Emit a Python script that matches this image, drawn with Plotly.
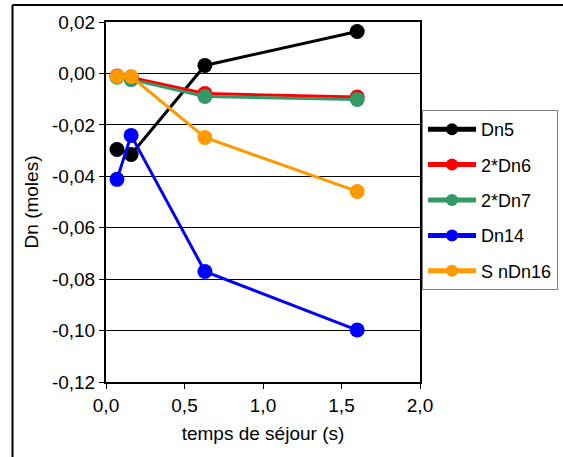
import plotly.graph_objects as go

x_time = [0.07, 0.16, 0.63, 1.60]

series_names = ["Dn5", "2*Dn6", "2*Dn7", "Dn14", "S nDn16"]
dn5 = [-0.0296, -0.0315, 0.0031, 0.0163]
dn6x2 = [-0.0010, -0.0016, -0.0078, -0.0092]
dn7x2 = [-0.0015, -0.0024, -0.0090, -0.0101]
dn14 = [-0.0412, -0.0241, -0.0770, -0.0998]
sndn16 = [-0.0012, -0.0012, -0.0249, -0.0459]

colors = ["#000000", "#FF0000", "#339966", "#0000FF", "#FF9900"]

y_tickvals = [0.02, 0.0, -0.02, -0.04, -0.06, -0.08, -0.10, -0.12]
y_ticktext = ["0,02", "0,00", "-0,02", "-0,04", "-0,06", "-0,08", "-0,10", "-0,12"]
x_tickvals = [0.0, 0.5, 1.0, 1.5, 2.0]
x_ticktext = ["0,0", "0,5", "1,0", "1,5", "2,0"]

all_series = [dn5, dn6x2, dn7x2, dn14, sndn16]

fig = go.Figure()
for name, vals, col in zip(series_names, all_series, colors):
    fig.add_trace(go.Scatter(
        x=x_time, y=vals, name=name, mode="lines+markers",
        line=dict(color=col, width=3),
        marker=dict(color=col, size=15),
        legendgroup=name,
    ))

font_family = "Liberation Sans, Arial, sans-serif"

W, H = 563, 457
ML, MR, MT, MB = 106, 143, 22, 75
paper_w = W - ML - MR
paper_h = H - MT - MB


def px_x(p):
    return (p - ML) / paper_w


def px_y(p):
    return (H - MB - p) / paper_h


fig.update_layout(
    width=W, height=H,
    margin=dict(l=ML, r=MR, t=MT, b=MB, autoexpand=False),
    paper_bgcolor="white", plot_bgcolor="white",
    font=dict(family=font_family, size=19, color="black"),
    showlegend=True,
    legend=dict(
        xref="container", yref="container",
        x=422 / W, y=(H - 110) / H, xanchor="left", yanchor="top",
        bordercolor="#808080", borderwidth=1,
        font=dict(size=18, color="black"),
        tracegroupgap=9,
        itemwidth=48,
        itemsizing="constant",
        bgcolor="white",
    ),
    xaxis=dict(
        range=[0, 2.0], tickvals=x_tickvals, ticktext=x_ticktext,
        showgrid=False, zeroline=False,
        showline=True, linecolor="black", linewidth=2, mirror=True,
        ticks="outside", ticklen=5, tickcolor="black",
        tickfont=dict(size=19),
        title=dict(text="temps de séjour (s)", font=dict(size=19), standoff=12),
    ),
    yaxis=dict(
        range=[-0.12, 0.02], tickvals=y_tickvals, ticktext=y_ticktext,
        showgrid=True, gridcolor="black", gridwidth=1, zeroline=False,
        showline=True, linecolor="black", linewidth=2, mirror=True,
        ticks="outside", ticklen=5, tickcolor="black",
        tickfont=dict(size=19),
        title=dict(text="Dn (moles)", font=dict(size=19), standoff=8),
    ),
    shapes=[
        dict(type="line", xref="paper", yref="paper",
             x0=px_x(12.5), x1=px_x(563), y0=px_y(5), y1=px_y(5),
             line=dict(color="black", width=2), layer="above"),
        dict(type="line", xref="paper", yref="paper",
             x0=px_x(12.5), x1=px_x(12.5), y0=px_y(5), y1=px_y(457),
             line=dict(color="black", width=2), layer="above"),
    ],
)

fig.write_html(
    "out.html",
    config={"displayModeBar": False},
    post_script=(
        "document.documentElement.style.overflow='hidden';"
        "document.body.style.overflow='hidden';"
        "document.body.style.margin='0';document.body.style.padding='0';"
    ),
)
